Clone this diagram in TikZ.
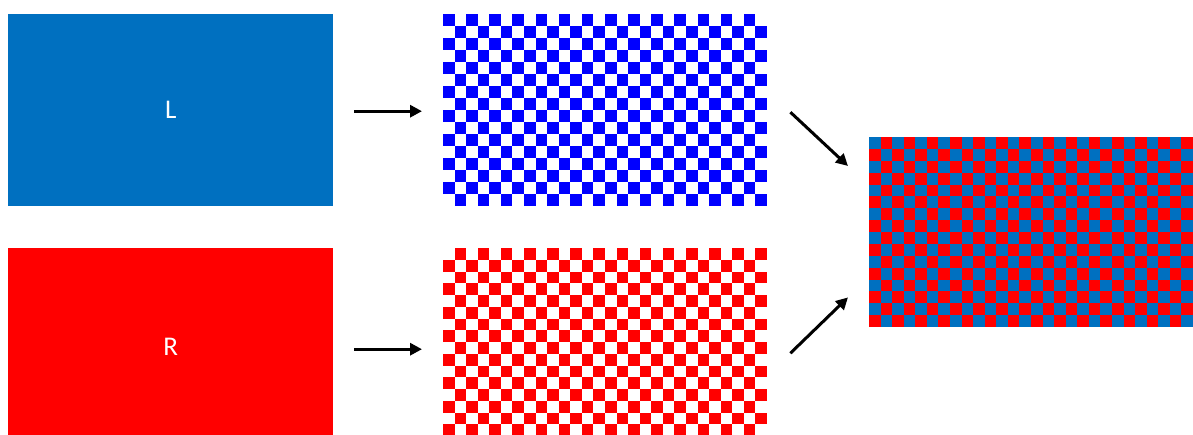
\documentclass[tikz,border=0pt]{standalone}
\usepackage{fontspec}
\setmainfont{Carlito}
\usetikzlibrary{arrows.meta}
\definecolor{lblue}{RGB}{0,112,192}
\definecolor{pblue}{RGB}{0,0,255}
\definecolor{pred}{RGB}{255,0,0}
\begin{document}
\begin{tikzpicture}[x=1pt,y=-1pt,
  bigbox/.style={rectangle, inner sep=0pt, minimum width=325pt, minimum height=192pt, text=white, font=\fontsize{27}{30}\selectfont},
  board/.style={rectangle, inner sep=0pt, minimum width=324pt},
  arr/.style={line width=3pt, -{Triangle[length=12pt,width=12pt]}, shorten <=21pt, shorten >=21pt}]
\useasboundingbox (0,0) rectangle (1193,434);

\node[bigbox, fill=lblue, anchor=north west] (L) at (8,14) {L};
\node[bigbox, minimum height=198pt, fill=pred, anchor=north west] (R) at (8,248) {R};

\node[board, minimum height=192pt, anchor=north west] (B) at (443,14) {};
\node[board, minimum height=188pt, anchor=north west] (RB) at (443,248) {};
\node[board, minimum height=190pt, fill=lblue, anchor=north west] (C) at (869,137) {};

\foreach \i in {0,...,27}{
  \foreach \j in {0,...,15}{
    \pgfmathtruncatemacro\p{mod(\i+\j,2)}
    \ifnum\p=0
      \fill[pblue] ({443+\i*11.571},{14+\j*12}) rectangle ++(11.571,12);
    \else
      \fill[pred] ({443+\i*11.571},{248+\j*11.75}) rectangle ++(11.571,11.75);
      \fill[pred] ({869+\i*11.571},{137+\j*11.875}) rectangle ++(11.571,11.875);
    \fi
  }
}

\draw[arr] ([yshift=-1pt]L.east) -- ([yshift=-1pt]B.west);
\draw[arr] ([yshift=-2pt]R.east) -- ([yshift=-7pt]RB.west);
\draw[arr, shorten <=0pt, shorten >=0pt] ([shift={(23pt,-2pt)}]B.east) -- ([shift={(-21pt,-29pt)}]C.north west);
\draw[arr, shorten <=0pt, shorten >=0pt] ([shift={(23pt,-11pt)}]RB.east) -- ([shift={(-21pt,30pt)}]C.south west);
\end{tikzpicture}
\end{document}
